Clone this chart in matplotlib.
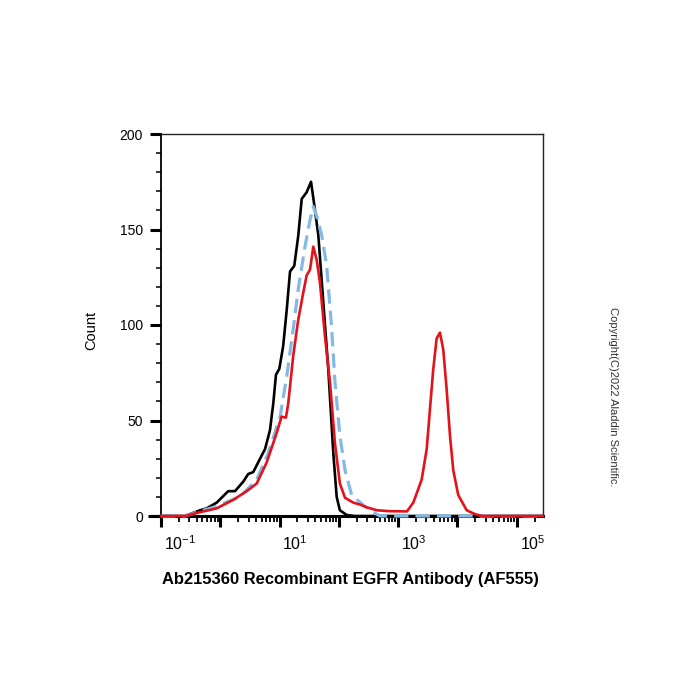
import numpy as np
import matplotlib
matplotlib.use('Agg')
import matplotlib.pyplot as plt
import matplotlib.transforms as mtransforms
from matplotlib.ticker import FixedLocator, FixedFormatter, LogLocator, NullFormatter, MultipleLocator

plt.rcParams['font.family'] = ['Liberation Sans', 'DejaVu Sans']
plt.rcParams['mathtext.fontset'] = 'custom'
plt.rcParams['mathtext.rm'] = 'Liberation Sans'
plt.rcParams['mathtext.it'] = 'Liberation Sans:italic'
plt.rcParams['mathtext.bf'] = 'Liberation Sans:bold'

# histogram traces (x = fluorescence, y = count)
black_x = [0.1, 0.254, 0.455, 0.59, 0.869, 1.36, 1.77, 2.44, 2.96, 3.6, 4.68, 5.68, 6.89, 7.83,
           8.69, 9.89, 11.5, 13.2, 15.0, 17.7, 20.7, 23.6, 28.6, 33.9, 38.0, 45.0, 54.6, 66.2,
           80.5, 91.8, 104, 136, 186, 2.77e5]
black_y = [0, 0, 3, 4, 7, 13, 13, 18, 22, 23, 30, 35, 45, 59,
           74, 77, 89, 108, 128, 131, 147, 166, 169.5, 175, 164, 147, 112, 77,
           33, 10, 3, 0.5, 0, 0]

blue_x = [0.1, 0.254, 0.455, 0.869, 1.46, 2.15, 4.11, 6.44, 10.2, 13.2, 17.0, 20.7, 26.8, 32.6,
          37.0, 42.3, 51.3, 62.2, 75.7, 85.9, 104, 127, 164, 212, 275, 376, 493, 2.77e5]
blue_y = [0, 0, 2.5, 5, 8, 10, 19, 33, 52, 73, 98, 119, 141, 155,
          162, 157, 147, 131, 98, 70, 42, 24, 11, 8, 5, 2, 0, 0]

red_x = [0.1, 0.254, 0.455, 0.869, 1.66, 2.79, 4.11, 6.05, 8.93, 10.8, 12.8, 14.0, 17.0, 20.7,
         25.1, 28.6, 32.6, 37.0, 42.3, 48.0, 58.3, 70.8, 85.9, 104, 127, 175, 227, 298, 440,
         728, 1406, 1799, 2489, 3027, 3436, 3908, 4457, 5070, 5768, 6577, 7482, 8492, 10300,
         14290, 19720, 25880, 2.77e5]
red_y = [0, 0, 2, 4, 8.5, 13, 17, 28, 43.5, 52, 51.5, 59, 84, 103,
         117, 126, 129, 141, 134, 122, 94, 70, 38, 17, 9.5, 7, 6, 4.5, 3,
         2.5, 2.4, 7, 19, 35, 56, 77, 93, 96, 87, 66, 42, 24, 11,
         3, 1, 0, 0]

x_decades = [-1, 0, 1, 2, 3, 4, 5]
x_labels = [r'$\mathregular{10^{-1}}$', '', r'$\mathregular{10^{1}}$', '',
            r'$\mathregular{10^{3}}$', '', r'$\mathregular{10^{5}}$']
y_ticks = [0, 50, 100, 150, 200]

fig = plt.figure(figsize=(7, 7), dpi=100)
ax = fig.add_axes([161 / 700, 184 / 700, 382 / 700, 382 / 700])

ax.plot(black_x, black_y, color='black', lw=1.9, clip_on=False, zorder=3)
ax.plot(blue_x, blue_y, color='#85b9e5', lw=2.3, dashes=(4.5, 2.2), clip_on=False, zorder=4)
ax.plot(red_x, red_y, color='#e3121b', lw=1.9, clip_on=False, zorder=5)

ax.set_xscale('log')
ax.set_xlim(0.1, 2.77e5)
ax.set_ylim(0, 200)

ax.xaxis.set_major_locator(FixedLocator([10.0 ** k for k in x_decades]))
ax.xaxis.set_major_formatter(FixedFormatter(x_labels))
ax.xaxis.set_minor_locator(LogLocator(base=10, subs=np.arange(2, 10), numticks=30))
ax.xaxis.set_minor_formatter(NullFormatter())
ax.yaxis.set_major_locator(FixedLocator(y_ticks))
ax.yaxis.set_minor_locator(MultipleLocator(10))

ax.tick_params(axis='x', which='major', direction='out', length=8, width=2.2, pad=5, labelsize=11.5)
ax.tick_params(axis='x', which='minor', direction='out', length=4.5, width=1.3)
ax.tick_params(axis='y', which='major', direction='out', length=8, width=2.2, pad=5, labelsize=10)
ax.tick_params(axis='y', which='minor', direction='out', length=3.5, width=1.1)

shift = mtransforms.ScaledTranslation(2 / 72, 0, fig.dpi_scale_trans)
for lbl in ax.get_xticklabels():
    lbl.set_horizontalalignment('left')
    lbl.set_transform(lbl.get_transform() + shift)

for side in ['top', 'right']:
    ax.spines[side].set_linewidth(1.0)
    ax.spines[side].set_color('#222222')
ax.spines['left'].set_linewidth(1.3)
ax.spines['bottom'].set_linewidth(2.2)
# x axis line runs a bit past the y axis
ax.plot([-0.034, 0], [0, 0], transform=ax.transAxes, color='black', lw=2.2,
        clip_on=False, solid_capstyle='butt')

ax.set_xlabel('Ab215360 Recombinant EGFR Antibody (AF555)', fontsize=11.9, fontweight='bold')
ax.xaxis.set_label_coords(0.497, -0.147)
ax.text(-0.183, 0.487, 'Count', transform=ax.transAxes, rotation=90,
        ha='center', va='center', fontsize=10.5)

fig.text(613 / 700, 1 - 397 / 700, 'Copyright(C)2022 Aladdin Scientific.', rotation=-90,
         ha='center', va='center', fontsize=8, color='#333333')

fig.savefig('out.png', dpi=100)
